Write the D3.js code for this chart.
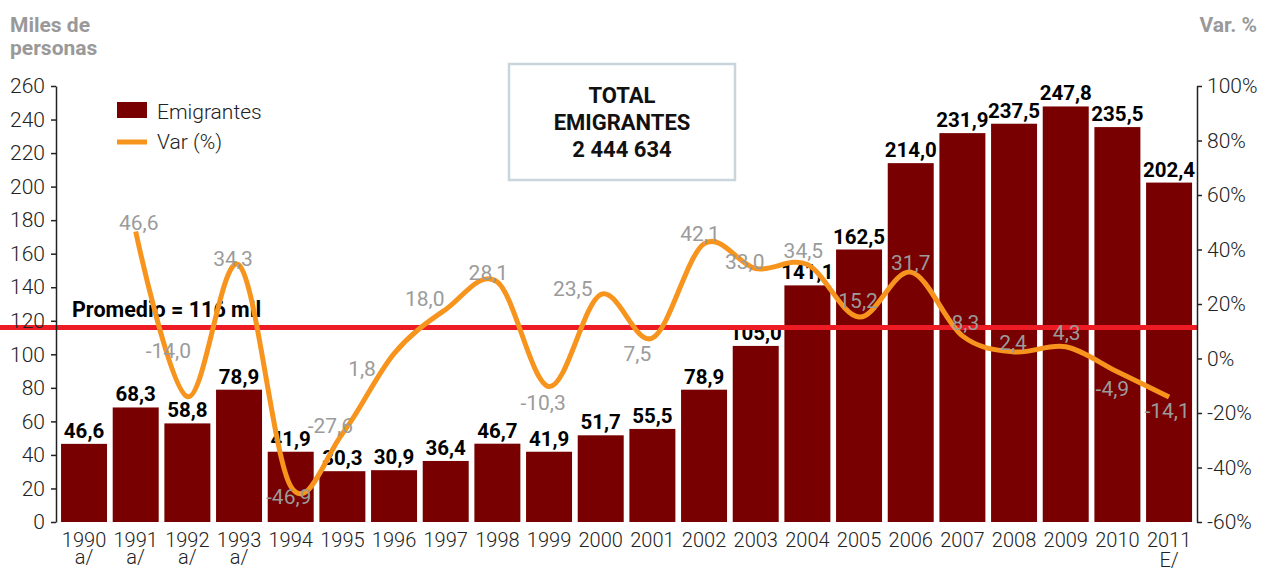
<!DOCTYPE html>
<html>
<head>
<meta charset="utf-8">
<title>Total emigrantes</title>
<style>
  body { margin: 0; background: #fff; }
  svg { display: block; font-family: Roboto, "Liberation Sans", sans-serif; }
  .axis path, .axis line { stroke: #222; stroke-width: 1.5; }
  .axis text { font-size: 21px; font-weight: 300; fill: #222; font-family: Roboto, sans-serif; }
</style>
</head>
<body>
<script src="https://d3js.org/d3.v7.min.js"></script>
<script>
// data
var years = ["1990","1991","1992","1993","1994","1995","1996","1997","1998","1999","2000",
             "2001","2002","2003","2004","2005","2006","2007","2008","2009","2010","2011"];
var yearNotes = ["a/","a/","a/","a/","","","","","","","","","","","","","","","","","","E/"];
var emigrants = [46.6,68.3,58.8,78.9,41.9,30.3,30.9,36.4,46.7,41.9,51.7,
                 55.5,78.9,105.0,141.1,162.5,214.0,231.9,237.5,247.8,235.5,202.4];
var varPct = [null,46.6,-14.0,34.3,-46.9,-27.6,1.8,18.0,28.1,-10.3,23.5,
              7.5,42.1,33.0,34.5,15.2,31.7,8.3,2.4,4.3,-4.9,-14.1];
var average = 116;
var totalEmigrants = 2444634;
var leftTicks = [0,20,40,60,80,100,120,140,160,180,200,220,240,260];
var rightTicks = [-60,-40,-20,0,20,40,60,80,100];

// where each Var label sits relative to its point (dx, dy) - as in the original
var varLabelOffsets = [null,[3,-9],[-19,-46],[-6,-6],[-2,11],[-12,-8],[-32,15],[-21,-10],[-9,-9],
                       [-6,16],[-28,-5],[-15,16],[-4,-10],[-11,-7],[-4,-13],[-1,-16],[0,-9],
                       [3,-13],[-1,-9],[1,-14],[-5,17],[-2,14]];

var W = 1262, H = 572;
var plotTop = 86, plotBottom = 522, plotLeft = 56, plotRight = 1197;

var loc = d3.formatLocale({decimal: ",", thousands: " ", grouping: [3], currency: ["", ""], minus: "-"});
var f1 = loc.format(".1f");

var svg = d3.select("body").append("svg")
    .attr("width", W)
    .attr("height", H);

var x = d3.scaleBand()
    .domain(years)
    .range([58.2, 1194.9])
    .paddingInner(0.11)
    .paddingOuter(0.055);
var cx = function(yr) { return x(yr) + x.bandwidth() / 2; };

var yL = d3.scaleLinear().domain([0, 260]).range([plotBottom, plotTop]);
var yR = d3.scaleLinear().domain([-60, 100]).range([plotBottom, plotTop]);

// bars
svg.selectAll(".bar")
    .data(emigrants)
    .enter().append("rect")
    .attr("class", "bar")
    .attr("x", function(d, i) { return x(years[i]); })
    .attr("y", function(d) { return yL(d); })
    .attr("width", x.bandwidth())
    .attr("height", function(d) { return plotBottom - yL(d); })
    .attr("fill", "#780000");

// bar labels
svg.selectAll(".barlbl")
    .data(emigrants)
    .enter().append("text")
    .attr("x", function(d, i) { return cx(years[i]); })
    .attr("y", function(d) { return yL(d) - 6; })
    .attr("text-anchor", "middle")
    .style("font-size", "20.5px")
    .style("font-weight", "bold")
    .attr("fill", "#000")
    .text(function(d) { return f1(d); });

// average line
svg.append("line")
    .attr("x1", 0).attr("x2", plotRight)
    .attr("y1", yL(average)).attr("y2", yL(average))
    .attr("stroke", "#ed1c24")
    .attr("stroke-width", 5);

svg.append("text")
    .attr("x", 72).attr("y", yL(average) - 10)
    .style("font-size", "21.5px").style("font-weight", "bold")
    .text("Promedio = " + average + " mil");

// var line
var pts = varPct.map(function(v, i) { return {year: years[i], v: v, off: varLabelOffsets[i]}; })
    .filter(function(d) { return d.v !== null; });

var line = d3.line()
    .x(function(d) { return cx(d.year); })
    .y(function(d) { return yR(d.v); })
    .curve(d3.curveCatmullRom.alpha(0));

svg.append("path")
    .datum(pts)
    .attr("d", line)
    .attr("fill", "none")
    .attr("stroke", "#f7941d")
    .attr("stroke-width", 5);

svg.selectAll(".varlbl")
    .data(pts)
    .enter().append("text")
    .attr("x", function(d) { return cx(d.year) + d.off[0]; })
    .attr("y", function(d) { return yR(d.v) + d.off[1] + 7; })
    .attr("text-anchor", "middle")
    .style("font-size", "21px")
    .attr("fill", "#9b9b9b")
    .text(function(d) { return f1(d.v); });

// axes
svg.append("g")
    .attr("class", "axis")
    .attr("transform", "translate(" + plotLeft + ",0)")
    .call(d3.axisLeft(yL).tickValues(leftTicks).tickSize(5).tickSizeOuter(0).tickPadding(6));

svg.append("g")
    .attr("class", "axis")
    .attr("transform", "translate(" + plotRight + ",0)")
    .call(d3.axisRight(yR).tickValues(rightTicks).tickSize(5).tickSizeOuter(0).tickPadding(5)
          .tickFormat(function(d) { return loc.format("d")(d) + "%"; }));

// x labels: year, and the note below it
svg.selectAll(".xlbl")
    .data(years)
    .enter().append("text")
    .attr("x", function(d) { return cx(d); })
    .attr("y", 547)
    .attr("text-anchor", "middle")
    .style("font-size", "20px")
    .style("font-weight", 300)
    .attr("fill", "#222")
    .text(function(d) { return d; });

svg.selectAll(".xnote")
    .data(years.filter(function(d, i) { return yearNotes[i] !== ""; }))
    .enter().append("text")
    .attr("x", function(d) { return cx(d); })
    .attr("y", function(d) { return yearNotes[years.indexOf(d)] === "E/" ? 567 : 564; })
    .attr("text-anchor", "middle")
    .style("font-size", "20px")
    .style("font-weight", 300)
    .attr("fill", "#222")
    .text(function(d) { return yearNotes[years.indexOf(d)]; });

// axis titles
svg.append("text").attr("x", 10).attr("y", 32)
    .style("font-size", "21px").style("font-weight", "bold").attr("fill", "#999")
    .text("Miles de");
svg.append("text").attr("x", 10).attr("y", 55)
    .style("font-size", "21px").style("font-weight", "bold").attr("fill", "#999")
    .text("personas");
svg.append("text").attr("x", 1257).attr("y", 32).attr("text-anchor", "end")
    .style("font-size", "21px").style("font-weight", "bold").attr("fill", "#999")
    .text("Var. %");

// legend
svg.append("rect").attr("x", 117).attr("y", 102).attr("width", 30).attr("height", 16).attr("fill", "#780000");
svg.append("text").attr("x", 157).attr("y", 119).style("font-size", "21px").style("font-weight", 300)
    .attr("fill", "#222").text("Emigrantes");
svg.append("line").attr("x1", 117).attr("x2", 147).attr("y1", 142).attr("y2", 142)
    .attr("stroke", "#f7941d").attr("stroke-width", 5);
svg.append("text").attr("x", 157).attr("y", 149).style("font-size", "21px").style("font-weight", 300)
    .attr("fill", "#222").text("Var (%)");

// total box
svg.append("rect").attr("x", 509).attr("y", 64).attr("width", 226).attr("height", 116)
    .attr("fill", "none").attr("stroke", "#c9d5dd").attr("stroke-width", 2.5);
var box = svg.append("text").attr("text-anchor", "middle")
    .style("font-size", "22px").style("font-weight", "bold").attr("fill", "#111");
["TOTAL", "EMIGRANTES", loc.format(",")(totalEmigrants)].forEach(function(t, i) {
    box.append("tspan").attr("x", 622).attr("y", 103 + i * 27).text(t);
});
</script>
</body>
</html>
